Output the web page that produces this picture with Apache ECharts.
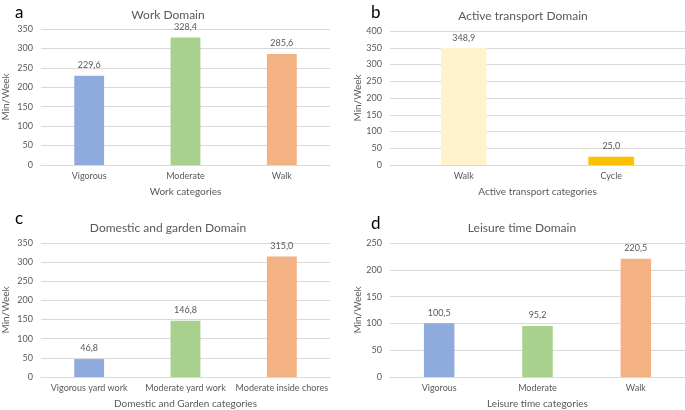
<!DOCTYPE html>
<html>
<head>
<meta charset="utf-8">
<script src="https://cdn.jsdelivr.net/npm/echarts@6/dist/echarts.min.js"></script>
<style>
html,body{margin:0;padding:0;background:#fff;}
#chart{width:685px;height:410px;}
</style>
</head>
<body>
<div id="chart"></div>
<script>
// ---- Data ----
const workCategories = ['Vigorous', 'Moderate', 'Walk'];
const workValues = [229.6, 328.4, 285.6];

const transportCategories = ['Walk', 'Cycle'];
const transportValues = [348.9, 25.0];

const domesticCategories = ['Vigorous yard work', 'Moderate yard work', 'Moderate inside chores'];
const domesticValues = [46.8, 146.8, 315.0];

const leisureCategories = ['Vigorous', 'Moderate', 'Walk'];
const leisureValues = [100.5, 95.2, 220.5];

const panelLetters = ['a', 'b', 'c', 'd'];
const panelTitles = ['Work Domain', 'Active transport Domain', 'Domestic and garden Domain', 'Leisure time Domain'];
const xAxisNames = ['Work categories', 'Active transport categories', 'Domestic and Garden categories', 'Leisure time categories'];
const yAxisName = 'Min/Week';
const yMax = [350, 400, 350, 250];
const yInterval = 50;

// ---- Styles ----
const FONT = 'Lato, "Liberation Sans", sans-serif';
const TEXT = '#595959';
const GRID = '#D9D9D9';
const threeColors = ['#8FAADC', '#A9D18E', '#F4B183'];
const twoColors = ['#FFF2CC', '#FFC000'];

const panels = [
  {cats: workCategories, vals: workValues, colors: threeColors,
   grid: {left: 35, top: 29, width: 295, height: 136}, title: [163, 4], letter: [10, -1], yName: 30},
  {cats: transportCategories, vals: transportValues, colors: twoColors,
   grid: {left: 390, top: 31, width: 295, height: 134}, title: [518, 5], letter: [366, -1], yName: 27},
  {cats: domesticCategories, vals: domesticValues, colors: threeColors,
   grid: {left: 35, top: 243, width: 295, height: 134}, title: [163, 217], letter: [10, 205], yName: 30},
  {cats: leisureCategories, vals: leisureValues, colors: threeColors,
   grid: {left: 390, top: 243, width: 295, height: 135}, title: [517, 217], letter: [366, 210], yName: 27}
];

const fmt = v => v.toFixed(1).replace('.', ',');

const option = {
  animation: false,
  backgroundColor: '#fff',
  textStyle: {fontFamily: FONT},
  title: [],
  grid: [],
  xAxis: [],
  yAxis: [],
  series: []
};

panels.forEach((p, i) => {
  option.title.push({
    text: panelLetters[i], left: p.letter[0], top: p.letter[1],
    textStyle: {fontFamily: FONT, fontSize: 17, fontWeight: 'normal', color: '#000'}
  });
  option.title.push({
    text: panelTitles[i], left: p.title[0], top: p.title[1], textAlign: 'center',
    textStyle: {fontFamily: FONT, fontSize: 12, fontWeight: 'normal', color: TEXT}
  });
  option.grid.push(Object.assign({containLabel: false}, p.grid));
  option.xAxis.push({
    type: 'category', gridIndex: i, data: p.cats,
    name: xAxisNames[i], nameLocation: 'middle', nameGap: 22,
    nameTextStyle: {fontFamily: FONT, fontSize: 10, color: TEXT},
    axisLine: {lineStyle: {color: GRID}},
    axisTick: {show: false},
    axisLabel: {fontFamily: FONT, fontSize: 9, color: TEXT, margin: 7, interval: 0}
  });
  option.yAxis.push({
    type: 'value', gridIndex: i, min: 0, max: yMax[i], interval: yInterval,
    name: yAxisName, nameLocation: 'middle', nameGap: p.yName, nameRotate: 90,
    nameTextStyle: {fontFamily: FONT, fontSize: 10, color: TEXT},
    axisLine: {show: false}, axisTick: {show: false},
    axisLabel: {fontFamily: FONT, fontSize: 9, color: TEXT, margin: 8},
    splitLine: {lineStyle: {color: GRID, width: 1}}
  });
  option.series.push({
    type: 'bar', xAxisIndex: i, yAxisIndex: i, barWidth: '31%',
    data: p.vals.map((v, k) => ({value: v, itemStyle: {color: p.colors[k]}})),
    label: {show: true, position: 'top', distance: 6, formatter: d => fmt(d.value),
            fontFamily: FONT, fontSize: 9, color: TEXT}
  });
});

const chart = echarts.init(document.getElementById('chart'), null, {renderer: 'canvas'});
chart.setOption(option);
</script>
</body>
</html>
